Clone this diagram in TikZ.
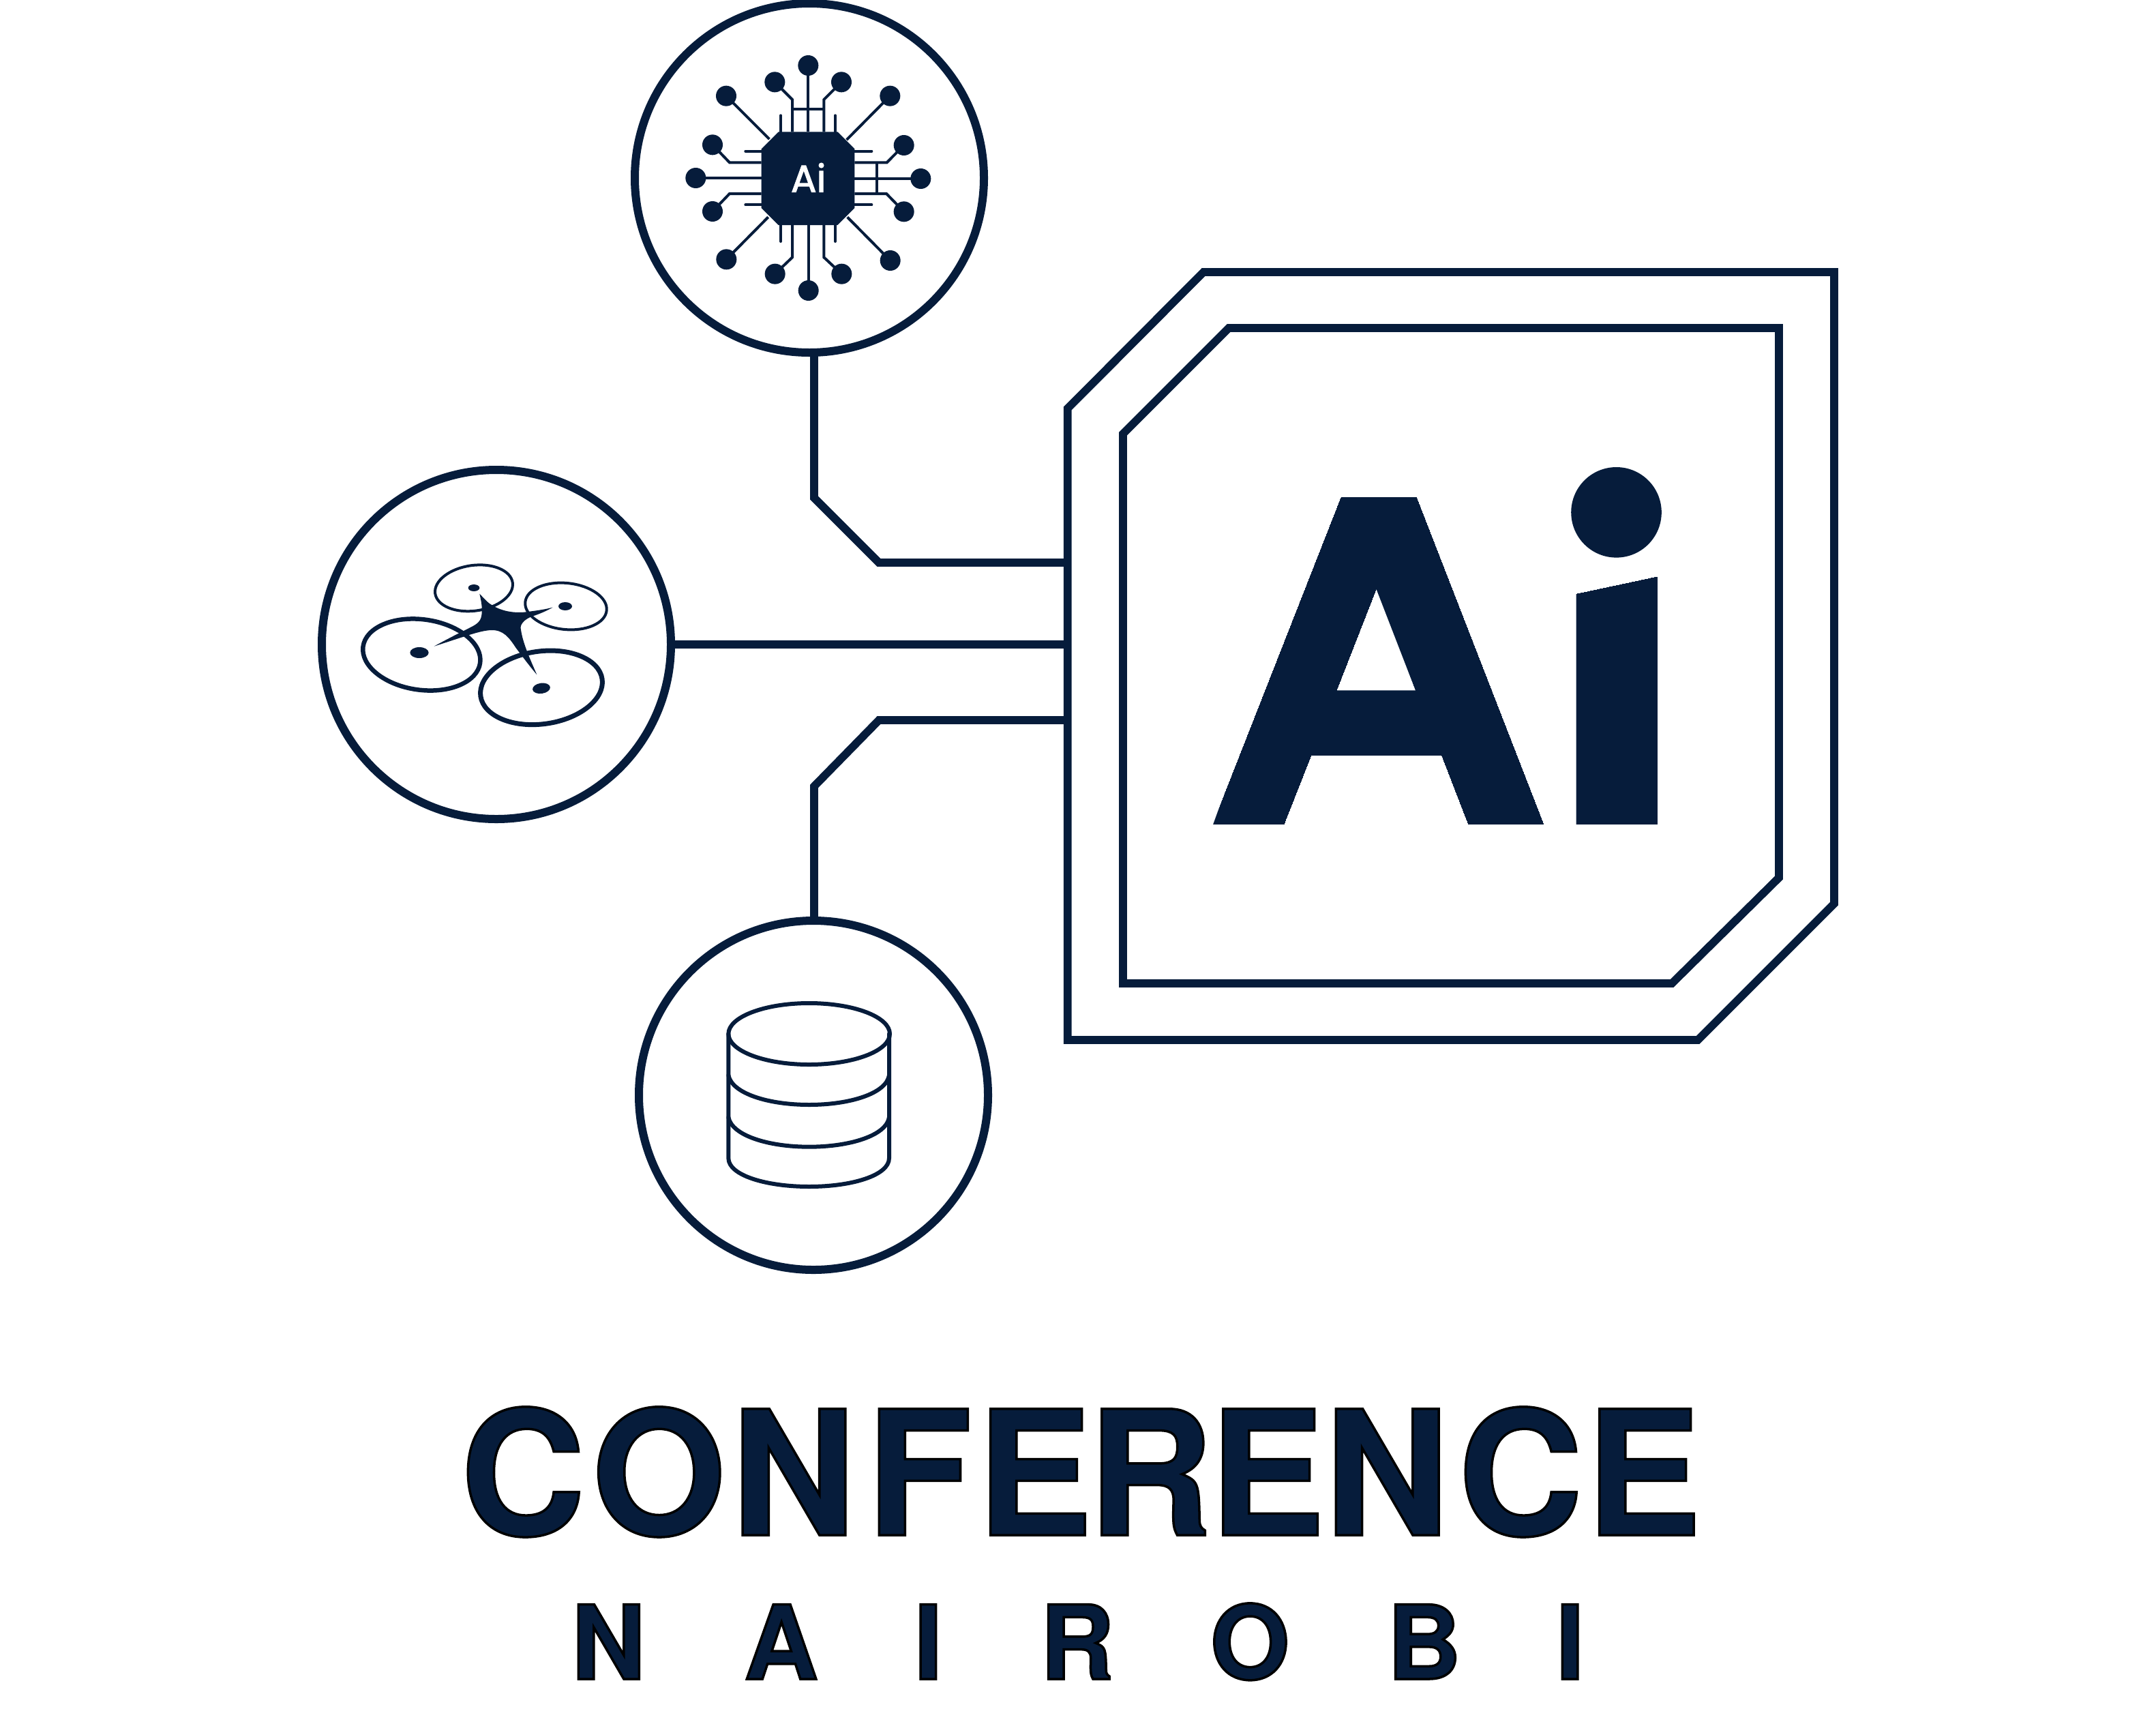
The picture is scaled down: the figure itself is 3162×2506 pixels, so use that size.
\documentclass[tikz,border=0pt]{standalone}
\usepackage{fontspec}
\setmainfont{Poppins}
\newfontfamily\heros{TeX Gyre Heros}
\definecolor{navy}{HTML}{061C3B}
\newcommand{\outlined}[1]{\special{pdf:code 2 Tr 3.5 w 0 0 0 RG}#1\special{pdf:code 0 Tr}}
\newcommand{\thickened}[1]{\special{pdf:code 2 Tr 1.1 w 1 1 1 RG}#1\special{pdf:code 0 Tr}}
\tikzset{
  ring/.style={circle,draw=navy,line width=12pt,minimum size=512pt,inner sep=0pt,outer sep=0pt,fill=white},
  wire/.style={draw=navy,line width=11.7pt,line join=miter},
  frame/.style={draw=navy,line width=11.7pt,line join=miter},
  trace/.style={draw=navy,line width=4pt,line join=miter},
  stub/.style={draw=navy,line width=4pt,line cap=round},
  pin/.style={fill=navy},
  rotor/.style={draw=navy},
  dbline/.style={draw=navy,line width=6pt,line cap=round,line join=round},
}
\begin{document}
\begin{tikzpicture}[x=1pt,y=-1pt]
\useasboundingbox (0,0) rectangle (3162,2506);
% circles
\node[ring] (aic) at (1187,261) {};
\node[ring] (drc) at (728,945) {};
\node[ring] (dbc) at (1193,1606) {};
% outer and inner frame
\coordinate (f1) at (1765,399);
\coordinate (f2) at (2690,399);
\coordinate (f3) at (2690,1325);
\coordinate (f4) at (2490,1525);
\coordinate (f5) at (1565.7,1525);
\coordinate (f6) at (1565.7,599);
\draw[frame] (f1)--(f2)--(f3)--(f4)--(f5)--(f6)--cycle;
\draw[frame] (1802,481)--(2609,481)--(2609,1287)--(2452,1442)--(1647,1442)--(1647,636)--cycle;
% connectors
\coordinate (t1) at (1565.7,825);
\coordinate (t2) at (1565.7,945);
\coordinate (t3) at (1565.7,1056);
\coordinate (j1) at (1194,730);
\coordinate (j2) at (1194,1153);
\draw[wire] (aic.south -| j1) -- (j1) -- (1289,825) -- (t1);
\draw[wire] (drc.east) -- (t2);
\draw[wire] (dbc.north -| j2) -- (j2) -- (1289,1056) -- (t3);
% big Ai
\begin{scope}[even odd rule]
\clip (1966.7,728.3) -- (2077,728.3) -- (2264,1209.3) -- (2153.3,1209.3) -- (2114,1107.7) -- (1922.7,1107.7) -- (1882.7,1209.3) -- (1777.7,1209.3) -- cycle
  (2018.3,863.3) -- (1960,1012.3) -- (2076,1012.3) -- cycle;
\node[text=navy,inner sep=0pt,anchor=base west,font=\bfseries\fontsize{690pt}{690pt}\selectfont] (bigA) at (1768,1209.3) {A};
\end{scope}
\fill[navy,even odd rule] (2018.3,830) -- (1925,1045) -- (2111,1045) -- cycle
  (2018.3,863.3) -- (1960,1012.3) -- (2076,1012.3) -- cycle;
\begin{scope}
\clip (2311,870.7) -- (2430.3,845.3) -- (2430.3,1209.3) -- (2311,1209.3) -- cycle;
\node[text=navy,inner sep=0pt,anchor=base west,font=\bfseries\fontsize{705pt}{705pt}\selectfont] (bigi) at (2268,1209.3) {i};
\end{scope}
\fill[navy] (2370.5,751.3) circle (66.3);
% chip icon
\begin{scope}[shift={(960,50)},x=0.33333pt,y=-0.33333pt]
\fill[navy] (545,430)--(805,430)--(880,505)--(880,765)--(805,840)--(545,840)--(470,765)--(470,505)--cycle;
\foreach \p in {(676,138),(529,211),(822,211),(315,272),(1036,272),(181,633),(255,487),(255,780),(1171,636),(1097,489),(1097,781),(677,1128),(530,1055),(823,1055),(316,991),(1037,996)}
  \fill[pin] \p circle (45);
\draw[trace] (676,138)--(676,430);
\draw[trace] (529,211)--(606,288)--(606,430);
\draw[trace] (822,211)--(745,288)--(745,430);
\draw[trace] (606,330)--(745,330);
\draw[stub] (555,358)--(555,430);
\draw[stub] (795,358)--(795,430);
\draw[trace] (315,272)--(505,462);
\draw[trace] (1036,272)--(845,465);
\draw[trace] (316,991)--(500,805);
\draw[trace] (1037,996)--(848,805);
\draw[trace] (181,633)--(470,633);
\draw[trace] (255,487)--(330,565)--(470,565);
\draw[trace] (255,780)--(330,702)--(470,702);
\draw[stub] (400,515)--(470,515);
\draw[stub] (400,751)--(470,751);
\draw[trace] (1171,636)--(880,636);
\draw[trace] (1097,489)--(1022,565)--(880,565);
\draw[trace] (1097,781)--(1020,702)--(880,702);
\draw[trace] (978,565)--(978,702);
\draw[stub] (880,515)--(955,515);
\draw[stub] (880,751)--(955,751);
\draw[trace] (677,1128)--(677,840);
\draw[trace] (530,1055)--(606,982)--(606,840);
\draw[trace] (823,1055)--(745,982)--(745,840);
\draw[stub] (555,840)--(555,912);
\draw[stub] (795,840)--(795,912);
\node[text=white,inner sep=0pt,anchor=base,font=\fontsize{56pt}{56pt}\selectfont] (chiplabel) at (677,695) {\thickened{Ai}};
\end{scope}
% drone icon
\begin{scope}[shift={(490,780)},x=0.33333pt,y=-0.33333pt]
\draw[rotor,line width=4pt] (615,247) ellipse[x radius=172,y radius=100,rotate=8];
\draw[rotor,line width=4pt] (1020,327) ellipse[x radius=180,y radius=102,rotate=-6];
\draw[rotor,line width=6.5pt] (385,540) ellipse[x radius=260,y radius=155,rotate=-8];
\draw[rotor,line width=7pt] (912,685) ellipse[x radius=270,y radius=160,rotate=8];
\fill[navy] (615,246) ellipse[x radius=25,y radius=15];
\fill[navy] (1017,327) ellipse[x radius=30,y radius=18];
\fill[navy] (375,531) ellipse[x radius=41,y radius=24];
\fill[navy,rotate around={8:(912,688)}] (912,688) ellipse[x radius=39,y radius=23];
\fill[navy] (640,272) .. controls (665,298) and (680,315) .. (695,322)
  .. controls (730,345) and (790,362) .. (860,350) .. controls (900,345) and (930,340) .. (962,332)
  .. controls (930,350) and (900,362) .. (870,372) .. controls (835,385) and (815,410) .. (822,430)
  .. controls (830,490) and (865,565) .. (892,628)
  .. controls (860,590) and (830,550) .. (800,510) .. controls (770,465) and (745,430) .. (690,432)
  .. controls (640,435) and (590,455) .. (440,503)
  .. controls (500,470) and (550,445) .. (590,425) .. controls (630,405) and (650,395) .. (650,350)
  .. controls (652,325) and (645,295) .. (640,272) -- cycle;
\end{scope}
% database icon
\begin{scope}[shift={(1030,1440)},x=0.33333pt,y=-0.33333pt]
\draw[dbline] (470,228) ellipse[x radius=355,y radius=135];
\draw[dbline] (115,228)--(115,775) .. controls (115,850) and (280,900) .. (470,900) .. controls (660,900) and (822,850) .. (822,775) -- (822,228);
\draw[dbline] (115,410) .. controls (130,490) and (290,540) .. (470,540) .. controls (650,540) and (810,490) .. (822,410);
\draw[dbline] (115,595) .. controls (130,675) and (290,725) .. (470,725) .. controls (650,725) and (810,675) .. (822,595);
\end{scope}
% titles
\node[text=navy,inner sep=0pt,anchor=base west,font=\heros\bfseries\fontsize{254pt}{254pt}\selectfont] (title) at (675,2251) {\outlined{C\kern9ptO\kern7ptN\kern15ptF\kern7ptE\kern-7ptR\kern-5ptE\kern-1ptN\kern13ptC\kern4ptE}};
\node[text=navy,inner sep=0pt,anchor=base west,font=\heros\bfseries\fontsize{150pt}{150pt}\selectfont] (sub) at (838,2462) {\outlined{N\kern145ptA\kern141ptI\kern143ptR\kern141ptO\kern143ptB\kern139ptI}};
\end{tikzpicture}
\end{document}
